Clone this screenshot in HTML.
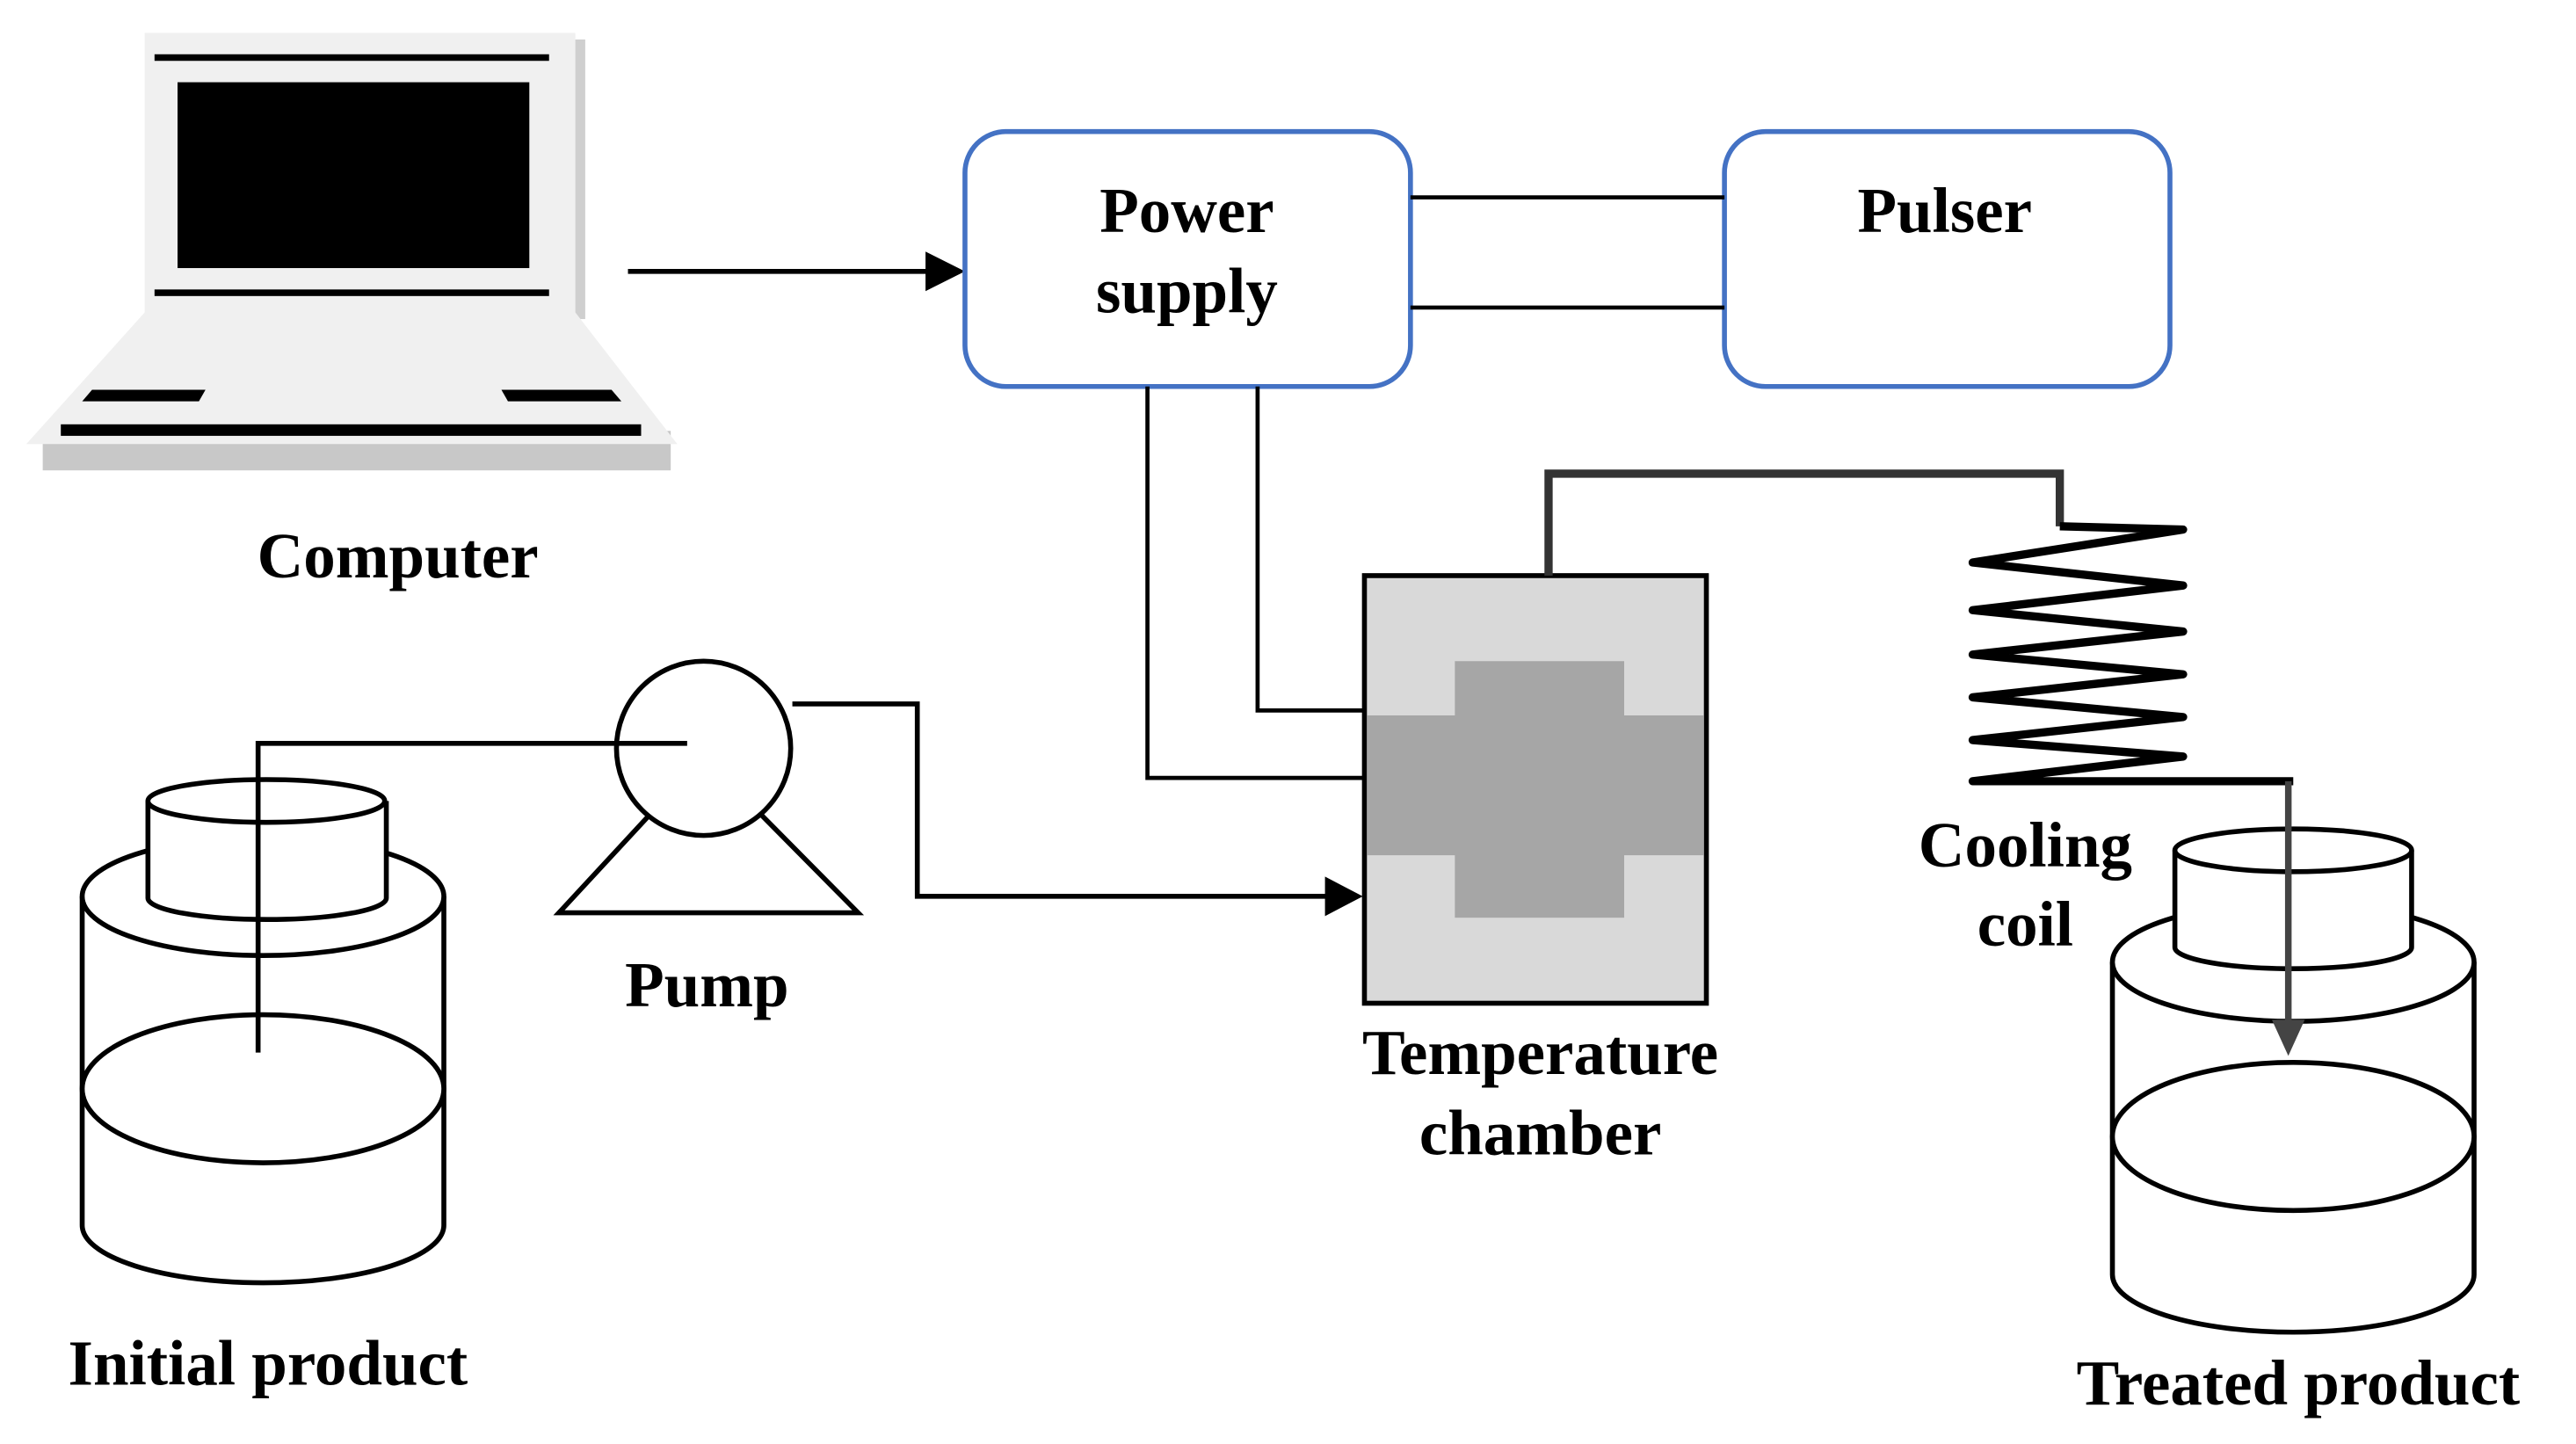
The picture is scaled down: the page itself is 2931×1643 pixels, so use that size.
<!DOCTYPE html>
<html><head><meta charset="utf-8"><style>
html,body{margin:0;padding:0;background:#fff;}
svg{display:block;}
text{font-family:"Liberation Serif",serif;font-weight:bold;font-size:39px;text-anchor:middle;fill:#000;}
</style></head><body>
<svg width="2931" height="1643" viewBox="0 0 1567 878" preserveAspectRatio="none" xmlns="http://www.w3.org/2000/svg">
<!-- Laptop -->
<rect x="94" y="24" width="262" height="170" fill="#cfcfcf"/>
<rect x="88" y="20" width="262" height="170" fill="#f0f0f0"/>
<rect x="94" y="33" width="240" height="4" fill="#000"/>
<rect x="94" y="176" width="240" height="4" fill="#000"/>
<rect x="108" y="50" width="214" height="113" fill="#000"/>
<rect x="26" y="262" width="382" height="24" fill="#c8c8c8"/>
<polygon points="88,190 350,190 412,270 16,270" fill="#f0f0f0"/>
<polygon points="56,237 125,237 121,244 50,244" fill="#000"/>
<polygon points="305,237 372,237 378,244 309,244" fill="#000"/>
<rect x="37" y="258" width="353" height="7" fill="#000"/>
<text x="242" y="351">Computer</text>
<line x1="382" y1="165" x2="565" y2="165" stroke="#000" stroke-width="3"/>
<polygon points="563,153 587,165 563,177" fill="#000"/>
<!-- Boxes -->
<rect x="587" y="80" width="271" height="155" rx="25" fill="#fff" stroke="#4472c4" stroke-width="3"/>
<text x="722" y="141">Power</text>
<text x="722" y="190">supply</text>
<rect x="1049" y="80" width="271" height="155" rx="25" fill="#fff" stroke="#4472c4" stroke-width="3"/>
<text x="1183" y="141">Pulser</text>
<line x1="858" y1="120" x2="1049" y2="120" stroke="#000" stroke-width="2.5"/>
<line x1="858" y1="187" x2="1049" y2="187" stroke="#000" stroke-width="2.5"/>
<polyline points="698,235 698,473 830,473" fill="none" stroke="#000" stroke-width="2.5"/>
<polyline points="765,235 765,432 830,432" fill="none" stroke="#000" stroke-width="2.5"/>
<!-- Chamber -->
<rect x="830" y="350" width="208" height="260" fill="#d9d9d9" stroke="#000" stroke-width="3"/>
<rect x="831.5" y="435" width="205" height="85" fill="#a6a6a6"/>
<rect x="885" y="402" width="103" height="156" fill="#a6a6a6"/>
<text x="937" y="653">Temperature</text>
<text x="937" y="702">chamber</text>
<!-- Pipe & coil -->
<polyline points="942,350 942,288 1253,288 1253,320" fill="none" stroke="#333" stroke-width="5"/>
<polyline points="1253,320 1328,322 1200,342 1328,356 1200,371 1328,384 1200,398 1328,410 1200,424 1328,436 1200,450 1328,460 1200,475 1395,475" fill="none" stroke="#000" stroke-width="5" stroke-linejoin="round"/>
<text x="1232" y="527">Cooling</text>
<text x="1232" y="575">coil</text>
<!-- Treated bottle -->
<g fill="#fff" stroke="#000" stroke-width="3">
<path d="M1285,585 L1285,775 A110,35 0 0 0 1505,775 L1505,585"/>
<ellipse cx="1395" cy="585" rx="110" ry="36"/>
<ellipse cx="1395" cy="691" rx="110" ry="45"/>
<path d="M1323,517 L1323,576 A72,13 0 0 0 1467,576 L1467,517"/>
<ellipse cx="1395" cy="517" rx="72" ry="13"/>
</g>
<line x1="1392" y1="475" x2="1392" y2="625" stroke="#444" stroke-width="4"/>
<polygon points="1382,620 1402,620 1392,642" fill="#444"/>
<text x="1398" y="854">Treated product</text>
<!-- Initial bottle -->
<g fill="#fff" stroke="#000" stroke-width="3">
<path d="M50,545 L50,745 A110,35 0 0 0 270,745 L270,545"/>
<ellipse cx="160" cy="545" rx="110" ry="36"/>
<ellipse cx="160" cy="662" rx="110" ry="45"/>
<path d="M90,487 L90,546 A72,13 0 0 0 235,546 L235,487"/>
<ellipse cx="162" cy="487" rx="72" ry="13"/>
</g>
<polyline points="157,640 157,452 418,452" fill="none" stroke="#000" stroke-width="3"/>
<text x="163" y="842">Initial  product</text>
<!-- Pump -->
<polygon points="340,555 522,555 428,460" fill="#fff" stroke="#000" stroke-width="3"/>
<circle cx="428" cy="455" r="53" fill="#fff" stroke="#000" stroke-width="3"/>
<line x1="375" y1="452" x2="418" y2="452" stroke="#000" stroke-width="3"/>
<text x="430" y="612">Pump</text>
<polyline points="482,428 558,428 558,545 808,545" fill="none" stroke="#000" stroke-width="3"/>
<polygon points="806,533 829,545 806,557" fill="#000"/>
</svg>
</body></html>
